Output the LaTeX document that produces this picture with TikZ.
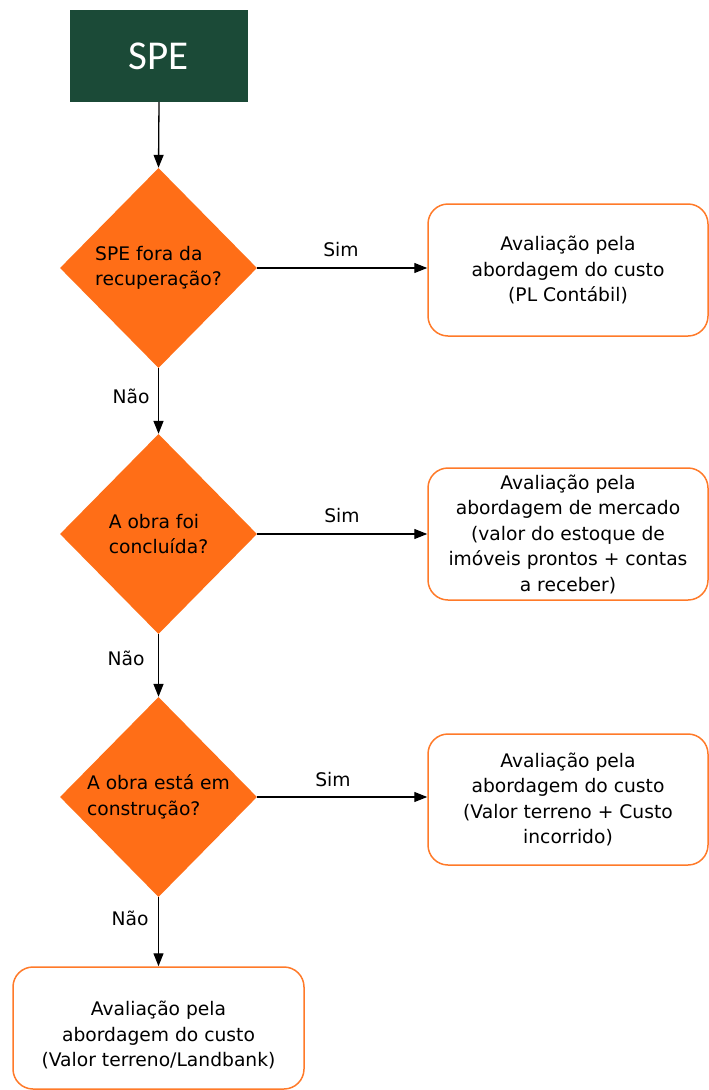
\documentclass[tikz,border=0pt]{standalone}
\usepackage{fontspec}
\setmainfont{DejaVu Sans}
\newfontfamily\spefont{Carlito}
\usetikzlibrary{shapes.geometric,arrows.meta}
\definecolor{spegreen}{HTML}{1B4A37}
\definecolor{dorange}{HTML}{FF6E17}
\definecolor{borange}{HTML}{FF7A29}
\begin{document}
\begin{tikzpicture}[x=1pt,y=-1pt,
  txt/.style={font=\fontsize{18.7}{25.5}\selectfont, text=black},
  decision/.style={diamond, fill=dorange, draw=none, inner sep=0pt, minimum width=197pt, minimum height=200pt, aspect=1, align=left, txt},
  result/.style={rectangle, rounded corners=20pt, draw=borange, line width=1.5pt, fill=white, align=center, txt},
  conn/.style={line width=1.3pt, -{Triangle[length=13pt,width=10pt]}},
  lbl/.style={txt, inner sep=0pt}]
\useasboundingbox (0,0) rectangle (709,1090);

\node[fill=spegreen, minimum width=178pt, minimum height=92pt, text=white, font=\spefont\fontsize{41}{41}\selectfont] (spe) at (159,56) {SPE};

\node[decision] (d1) at (158.5,268) {SPE fora da\\recuperação?};
\node[decision] (d2) at (158.5,534) {A obra foi\\concluída?};
\node[decision] (d3) at (158.5,797) {A obra está em\\construção?};

\node[result, minimum width=280pt, minimum height=132pt] (r1) at (568,270) {Avaliação pela\\abordagem do custo\\(PL Contábil)};
\node[result, minimum width=280pt, minimum height=132pt] (r2) at (568,534) {Avaliação pela\\abordagem de mercado\\(valor do estoque de\\imóveis prontos + contas\\a receber)};
\node[result, minimum width=280pt, minimum height=131pt] (r3) at (568,799.5) {Avaliação pela\\abordagem do custo\\(Valor terreno + Custo\\incorrido)};
\node[result, minimum width=291pt, minimum height=122pt] (r4) at (158.5,1028) {};
\node[lbl, align=center] (r4t) at (158.5,1035) {Avaliação pela\\abordagem do custo\\(Valor terreno/Landbank)};

\draw[conn] (spe.south) -- (d1.north);
\draw[conn] (d1.south) -- (d2.north);
\draw[conn] (d2.south) -- (d3.north);
\draw[conn] (d3.south) -- (r4.north);

\draw[conn] (d1.east) -- (d1.east -| r1.west);
\draw[conn] (d2.east) -- (d2.east -| r2.west);
\draw[conn] (d3.east) -- (d3.east -| r3.west);

\node[lbl] (s1) at (341,250) {Sim};
\node[lbl] (s2) at (342,516) {Sim};
\node[lbl] (s3) at (333,780) {Sim};
\node[lbl] (n1) at (131,396) {Não};
\node[lbl] (n2) at (126,658) {Não};
\node[lbl] (n3) at (130,918) {Não};
\end{tikzpicture}
\end{document}
